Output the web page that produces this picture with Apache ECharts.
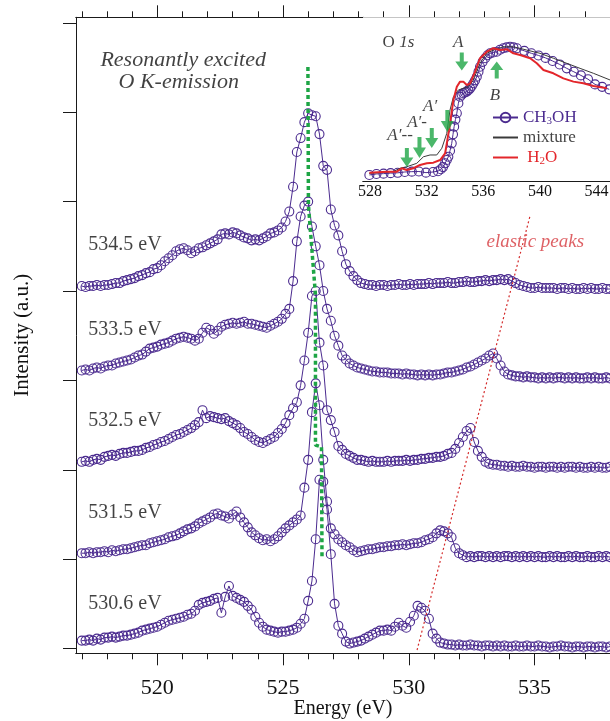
<!DOCTYPE html>
<html><head><meta charset="utf-8">
<script src="https://cdn.jsdelivr.net/npm/echarts@6/dist/echarts.min.js"></script>
<style>html,body{margin:0;padding:0;background:#fff}#c{width:610px;height:721px}</style>
</head><body><div id="c"></div>
<script>
// ---------- main panel data (energy in eV, intensity in a.u.; 90 a.u. per tick) ----------
const energies = [
517.00,517.15,517.30,517.45,517.60,517.75,517.90,518.05,518.20,518.35,518.50,518.65,518.80,518.95,519.10,519.25,519.40,519.55,519.70,519.85,
520.00,520.15,520.30,520.45,520.60,520.75,520.90,521.05,521.20,521.35,521.50,521.65,521.80,521.95,522.10,522.25,522.40,522.55,522.70,522.85,
523.00,523.15,523.30,523.45,523.60,523.75,523.90,524.05,524.20,524.35,524.50,524.65,524.80,524.95,525.10,525.25,525.40,525.55,525.70,525.85,
526.00,526.15,526.30,526.45,526.60,526.75,526.90,527.05,527.20,527.35,527.50,527.65,527.80,527.95,528.10,528.25,528.40,528.55,528.70,528.85,
529.00,529.15,529.30,529.45,529.60,529.75,529.90,530.05,530.20,530.35,530.50,530.65,530.80,530.95,531.10,531.25,531.40,531.55,531.70,531.85,
532.00,532.15,532.30,532.45,532.60,532.75,532.90,533.05,533.20,533.35,533.50,533.65,533.80,533.95,534.10,534.25,534.40,534.55,534.70,534.85,
535.00,535.15,535.30,535.45,535.60,535.75,535.90,536.05,536.20,536.35,536.50,536.65,536.80,536.95,537.10,537.25,537.40,537.55,537.70,537.85,
538.00];
const spec530_6 = [8,8,9,8,10,9,11,11,12,11, 12,13,13,14,15,16,18,19,20,21, 22,24,26,28,29,30,31,32,34,35, 38,44,46,47,48,50,51,36,52,63,
 53,51,49,47,43,39,32,26,22,19, 18,17,16,17,17,18,19,21,25,30, 48,68,110,170,168,140,95,45,23,15, 7,5,6,7,8,10,12,14,16,18,
 18,19,18,22,26,23,21,27,33,43, 41,38,30,15,10,6,5,4,4,3, 4,3,3,4,3,3,2,3,3,2, 3,2,3,2,2,3,2,2,3,2,
 2,3,2,2,1,2,2,3,2,2, 1,2,2,1,2,2,1,2,2,1, 2];
const spec531_5 = [6,6,7,6,7,7,8,7,9,8, 9,10,10,11,12,13,14,14,16,17, 18,19,20,22,23,24,26,28,30,31, 33,36,38,40,42,45,46,44,43,41,
 45,48,42,37,32,27,24,21,19,20, 18,20,23,27,31,34,37,40,44,72, 100,148,177,155,100,58,31,25,20,17, 14,12,9,7,8,9,10,10,11,12,
 12,13,13,14,14,15,14,15,16,16, 17,19,20,22,26,29,28,26,22,11, 6,4,2,3,2,3,3,2,3,2, 3,2,3,3,2,3,2,3,2,3,
 2,3,2,2,3,2,3,2,2,3, 2,3,2,2,3,2,2,3,2,3, 2];
const spec532_5 = [8,9,8,10,11,10,13,14,15,14, 16,17,17,18,19,19,20,22,23,25, 26,28,29,31,33,35,36,38,40,42, 45,48,60,52,54,53,52,51,52,49,
 47,45,42,38,36,33,30,28,27,29, 31,33,37,41,47,55,62,68,85,110, 138,175,180,128,105,60,50,38,24,20, 16,14,12,10,10,9,8,9,8,8,
 8,9,8,9,9,9,10,9,10,10, 11,11,12,12,13,13,14,16,17,21, 27,33,39,42,28,19,13,8,6,5, 5,4,4,3,4,3,3,4,3,3,
 2,3,3,2,3,3,2,3,2,3, 3,2,3,2,2,3,2,3,2,2, 3];
const spec533_5 = [10,11,10,12,13,12,14,15,15,17, 18,19,20,21,23,25,26,29,32,33, 34,36,37,38,40,42,43,44,43,42, 40,42,48,53,51,47,50,54,56,57,
 58,57,58,59,57,57,56,55,54,53, 55,57,59,62,67,72,100,140,165,176, 180,155,135,116,90,72,60,45,35,25, 21,17,15,13,12,11,10,9,9,8,
 8,8,7,7,7,6,7,6,6,5, 6,5,6,5,6,6,7,8,8,9, 10,11,13,14,16,18,20,22,25,27, 22,15,9,6,5,4,4,3,4,3,
 3,2,3,2,3,2,3,3,2,3, 2,3,2,2,3,2,3,2,2,3, 2];
const spec534_5 = [5,4,5,5,6,5,6,6,7,8, 8,10,11,12,13,15,16,18,19,22, 23,26,30,33,36,40,42,43,41,38, 40,43,44,46,48,50,52,57,58,57,
 59,58,56,54,53,51,52,51,53,55, 58,59,61,64,70,80,105,140,154,170, 179,177,176,158,126,122,82,66,56,40, 27,20,15,11,8,7,6,6,5,6,
 6,5,6,6,7,6,6,7,6,7, 7,7,8,7,8,8,8,9,8,8, 9,9,10,9,9,10,10,11,10,11, 11,12,11,12,10,8,6,5,4,3,
 3,4,3,3,3,3,2,3,3,2, 3,2,2,3,2,3,2,2,3,2, 2];
const spectra = [spec530_6, spec531_5, spec532_5, spec533_5, spec534_5];
const offsets = [0, 90, 180, 270, 360];
const excitationNames = ['530.6 eV', '531.5 eV', '532.5 eV', '533.5 eV', '534.5 eV'];
const excitationLabelE = [517.24, 517.24, 517.24, 517.24, 517.24];
const excitationLabelY = [44.8, 136.4, 229.1, 320.7, 406.3];
const peakLine = [[525.99, 585.6], [526.01, 446.6], [526.29, 356.0], [526.29, 204.9], [526.53, 202.9], [526.55, 92.2]];
const elasticLine = [[530.33, -1.5], [534.82, 435.5]];
const mainTexts = [[517.72, 592.6, 'Resonantly excited'], [518.44, 570.5, 'O K-emission']];
const elasticText = [[533.07, 409.3, 'elastic peaks']];
const xMajorTicks = [520, 525, 530, 535];
const xMinorTicks = [517,518,519,520,521,522,523,524,525,526,527,528,529,530,531,532,533,534,535,536,537,538];
const yTicks = [0, 90, 180, 270, 360, 450, 540, 630];

// ---------- inset data (O 1s absorption) ----------
const ch3ohE = [527.95,528.45,528.95,529.45,529.95,530.45,530.95,531.45,531.95,532.45,532.8,533.0,533.15,533.3,533.42,533.53,533.65,533.77,533.86,533.94,534.03,534.13,534.24,534.36,534.47,534.59,534.71,534.83,534.95,535.07,535.19,535.3,535.42,535.54,535.66,535.77,535.95,536.13,536.3,536.48,536.7,536.95,537.18,537.42,537.65,537.89,538.13,538.37,538.9,539.4,539.9,540.4,540.9,541.4,541.9,542.4,542.9,543.4,543.9,544.4,544.9];
const ch3ohV = [0.037,0.043,0.045,0.048,0.050,0.055,0.057,0.058,0.051,0.055,0.060,0.072,0.085,0.108,0.128,0.148,0.185,0.230,0.285,0.332,0.375,0.414,0.475,0.515,0.527,0.536,0.541,0.546,0.555,0.566,0.580,0.597,0.615,0.637,0.668,0.698,0.728,0.750,0.768,0.780,0.785,0.790,0.802,0.811,0.816,0.820,0.816,0.811,0.795,0.780,0.767,0.752,0.733,0.712,0.688,0.667,0.645,0.622,0.590,0.575,0.560];
const mixE = [527.93,529.63,530.12,530.59,531.30,531.77,532.24,532.71,533.07,533.42,533.65,533.89,534.24,534.59,534.95,535.30,535.77,536.25,536.71,537.42,538.13,539.07,540.01,540.95,541.90,542.84,543.78,544.96];
const mixV = [0.047,0.057,0.078,0.087,0.108,0.148,0.159,0.159,0.200,0.291,0.434,0.515,0.556,0.566,0.576,0.617,0.719,0.780,0.800,0.820,0.820,0.800,0.780,0.750,0.719,0.688,0.658,0.617];
const h2oE = [527.95,529.18,529.89,530.24,530.59,531.06,531.53,532.01,532.47,532.95,533.30,533.46,533.65,533.89,534.13,534.36,534.59,534.83,535.07,535.42,535.77,536.25,536.71,537.19,537.66,538.13,538.60,539.31,539.78,540.25,540.95,541.66,542.37,543.07,543.78,544.73];
const h2oV = [0.051,0.057,0.057,0.078,0.067,0.078,0.098,0.108,0.112,0.128,0.169,0.250,0.352,0.495,0.576,0.607,0.607,0.586,0.597,0.668,0.750,0.790,0.811,0.800,0.805,0.780,0.770,0.750,0.719,0.678,0.658,0.627,0.607,0.597,0.580,0.566];
const arrowE = [530.60, 531.49, 532.36, 533.46, 534.48, 536.95];
const arrowV = [0.143, 0.205, 0.263, 0.367, 0.730, 0.678];
const arrowUp = [false, false, false, false, false, true];
const insetLetters = [[534.22, 0.843, 'A'], [532.24, 0.452, 'A′'], [531.32, 0.360, 'A′-'], [530.12, 0.275, 'A′--'], [536.83, 0.525, 'B']];
const insetTitle = [[528.85, 0.843, 'O 1s']];
const insetMajorTicks = [528, 532, 536, 540, 544];
const insetMinorTicks = [530, 534, 538, 542, 546];

// ---------- styles ----------
const SERIF = 'Liberation Serif';
const PURPLE = '#4b2b8f';
const GREEN = '#1ea545';
const AX = '#1a1a1a';
const arrowLen = [19, 21, 20, 22, 18, 17];
const ARROW = 'path://M4.5,0 L8.5,0 L8.5,9 L13,9 L6.5,18 L0,9 L4.5,9 Z';

const axLine = {show: true, onZero: false, lineStyle: {color: AX, width: 1}};
function xAx(grid, pos, min, max, ticks, len, inside, labels, extra) {
  return Object.assign({
    type: 'value', gridIndex: grid, position: pos, min: min, max: max,
    axisLine: axLine,
    axisTick: {show: true, customValues: ticks, length: len, inside: inside, lineStyle: {color: AX, width: 1}},
    axisLabel: labels ? labels : {show: false},
    splitLine: {show: false}
  }, extra || {});
}

const series = [];
spectra.forEach((arr, k) => {
  series.push({
    type: 'line', xAxisIndex: 0, yAxisIndex: 0, silent: true,
    data: energies.map((e, i) => [e, arr[i] + offsets[k]]),
    symbol: 'circle', symbolSize: 9, showAllSymbol: true,
    itemStyle: {color: 'rgba(255,255,255,0)', borderColor: PURPLE, borderWidth: 1.1},
    lineStyle: {color: PURPLE, width: 1}, z: 3
  });
});
series.push({type: 'line', xAxisIndex: 0, yAxisIndex: 0, silent: true, data: peakLine, symbol: 'none',
  lineStyle: {color: GREEN, width: 3.5, type: [4, 3]}, z: 4});
series.push({type: 'line', xAxisIndex: 0, yAxisIndex: 0, silent: true, data: elasticLine, symbol: 'none',
  lineStyle: {color: '#d42a2a', width: 1.2, type: [2, 2.5]}, z: 4});
series.push({type: 'scatter', xAxisIndex: 0, yAxisIndex: 0, silent: true, symbolSize: 1,
  itemStyle: {color: 'rgba(0,0,0,0)'},
  data: excitationNames.map((n, i) => [excitationLabelE[i], excitationLabelY[i], n]),
  label: {show: true, position: 'right', distance: 0, formatter: p => p.data[2],
    fontFamily: SERIF, fontSize: 20, color: '#111'}});
series.push({type: 'scatter', xAxisIndex: 0, yAxisIndex: 0, silent: true, symbolSize: 1,
  itemStyle: {color: 'rgba(0,0,0,0)'}, data: mainTexts,
  label: {show: true, position: 'right', distance: 0, formatter: p => p.data[2],
    fontFamily: SERIF, fontSize: 22, fontStyle: 'italic', color: '#111'}});
series.push({type: 'scatter', xAxisIndex: 0, yAxisIndex: 0, silent: true, symbolSize: 1,
  itemStyle: {color: 'rgba(0,0,0,0)'}, data: elasticText,
  label: {show: true, position: 'right', distance: 0, formatter: p => p.data[2],
    fontFamily: SERIF, fontSize: 19, fontStyle: 'italic', color: '#d63a3e'}});

// inset series
series.push({name: 'CH3OH', type: 'line', xAxisIndex: 4, yAxisIndex: 1, silent: true,
  data: ch3ohE.map((e, i) => [e, ch3ohV[i]]), symbol: 'circle', symbolSize: 9, showAllSymbol: true,
  itemStyle: {color: 'rgba(255,255,255,0)', borderColor: PURPLE, borderWidth: 1.1},
  lineStyle: {color: PURPLE, width: 1}, z: 3});
series.push({name: 'mixture', type: 'line', xAxisIndex: 4, yAxisIndex: 1, silent: true,
  data: mixE.map((e, i) => [e, mixV[i]]), symbol: 'none',
  itemStyle: {color: 'rgba(0,0,0,0)'}, lineStyle: {color: '#3a3a3a', width: 1}, z: 4});
series.push({name: 'H2O', type: 'line', xAxisIndex: 4, yAxisIndex: 1, silent: true,
  data: h2oE.map((e, i) => [e, h2oV[i]]), symbol: 'none',
  itemStyle: {color: 'rgba(0,0,0,0)'}, lineStyle: {color: '#e3262b', width: 2}, z: 5});
series.push({type: 'scatter', xAxisIndex: 4, yAxisIndex: 1, silent: true, z: 6,
  data: arrowE.map((e, i) => ({value: [e, arrowV[i]], symbolSize: [13, arrowLen[i]], symbolRotate: arrowUp[i] ? 180 : 0})),
  symbol: ARROW, itemStyle: {color: GREEN}});
series.push({type: 'scatter', xAxisIndex: 4, yAxisIndex: 1, silent: true, symbolSize: 1, z: 6,
  itemStyle: {color: 'rgba(0,0,0,0)'}, data: insetLetters,
  label: {show: true, position: 'inside', formatter: p => p.data[2],
    fontFamily: SERIF, fontSize: 17, fontStyle: 'italic', color: '#111'}});
series.push({type: 'scatter', xAxisIndex: 4, yAxisIndex: 1, silent: true, symbolSize: 1, z: 6,
  itemStyle: {color: 'rgba(0,0,0,0)'}, data: insetTitle,
  label: {show: true, position: 'right', distance: 0, formatter: '{o|O }{s|1s}',
    rich: {o: {fontFamily: SERIF, fontSize: 17, color: '#111'},
           s: {fontFamily: SERIF, fontSize: 17, fontStyle: 'italic', color: '#111'}}}});

const option = {
  animation: false,
  backgroundColor: '#fff',
  grid: [
    {left: 76, top: 17.3, width: 534, height: 636, containLabel: false, outerBoundsMode: 'none'},
    {left: 363, top: 17.3, width: 261.8, height: 163.7, show: true, backgroundColor: '#fff', borderWidth: 0, z: 1,
     containLabel: false, outerBoundsMode: 'none'}
  ],
  xAxis: [
    xAx(0, 'bottom', 516.77, 538, xMajorTicks, 12, false,
      {show: true, customValues: xMajorTicks, fontFamily: SERIF, fontSize: 22, color: '#111', margin: 24},
      {name: 'Energy (eV)', nameLocation: 'middle', nameGap: 45, nameMoveOverlap: false,
       nameTextStyle: {fontFamily: SERIF, fontSize: 20, color: '#111'}}),
    xAx(0, 'bottom', 516.77, 538, xMinorTicks, 6, false, null),
    xAx(0, 'top', 516.77, 538, xMajorTicks, 12, false, null),
    xAx(0, 'top', 516.77, 538, xMinorTicks, 6, false, null),
    xAx(1, 'bottom', 527.5, 546, insetMajorTicks, 8, true,
      {show: true, customValues: insetMajorTicks, fontFamily: SERIF, fontSize: 16, color: '#111', margin: 3}),
    xAx(1, 'bottom', 527.5, 546, insetMinorTicks, 4, true, null),
    xAx(1, 'top', 527.5, 546, insetMajorTicks, 8, true, null),
    xAx(1, 'top', 527.5, 546, insetMinorTicks, 4, true, null)
  ],
  yAxis: [
    {type: 'value', gridIndex: 0, position: 'left', min: -4.8, max: 635.6,
     axisLine: axLine,
     axisTick: {show: true, customValues: yTicks, length: 13, inside: false, lineStyle: {color: AX, width: 1}},
     axisLabel: {show: false}, splitLine: {show: false},
     name: 'Intensity (a.u.)', nameLocation: 'middle', nameGap: 43, nameRotate: 90, nameMoveOverlap: false,
     nameTextStyle: {fontFamily: SERIF, fontSize: 21, color: '#111'}},
    {type: 'value', gridIndex: 1, position: 'left', min: 0, max: 1,
     axisLine: axLine, axisTick: {show: false}, axisLabel: {show: false}, splitLine: {show: false}}
  ],
  legend: {
    data: ['CH3OH', 'mixture', 'H2O'], orient: 'vertical', left: 492, top: 108,
    itemWidth: 25, itemHeight: 12, itemGap: 1, selectedMode: false, padding: 0,
    formatter: function (n) {
      if (n === 'CH3OH') return '{p|CH}{ps|3}{p|OH}';
      if (n === 'mixture') return '{m|mixture}';
      return '{r| H}{rs|2}{r|O}';
    },
    textStyle: {fontFamily: SERIF, fontSize: 17, lineHeight: 19, rich: {
      p: {fontFamily: SERIF, fontSize: 17, lineHeight: 19, color: '#4b2b8f'},
      ps: {fontFamily: SERIF, fontSize: 11, lineHeight: 11, verticalAlign: 'bottom', color: '#4b2b8f'},
      m: {fontFamily: SERIF, fontSize: 17, lineHeight: 19, color: '#444'},
      r: {fontFamily: SERIF, fontSize: 17, lineHeight: 19, color: '#e3262b'},
      rs: {fontFamily: SERIF, fontSize: 11, lineHeight: 11, verticalAlign: 'bottom', color: '#e3262b'}
    }}
  },
  series: series
};
const chart = echarts.init(document.getElementById('c'), null, {renderer: 'canvas'});
chart.setOption(option);
</script></body></html>
